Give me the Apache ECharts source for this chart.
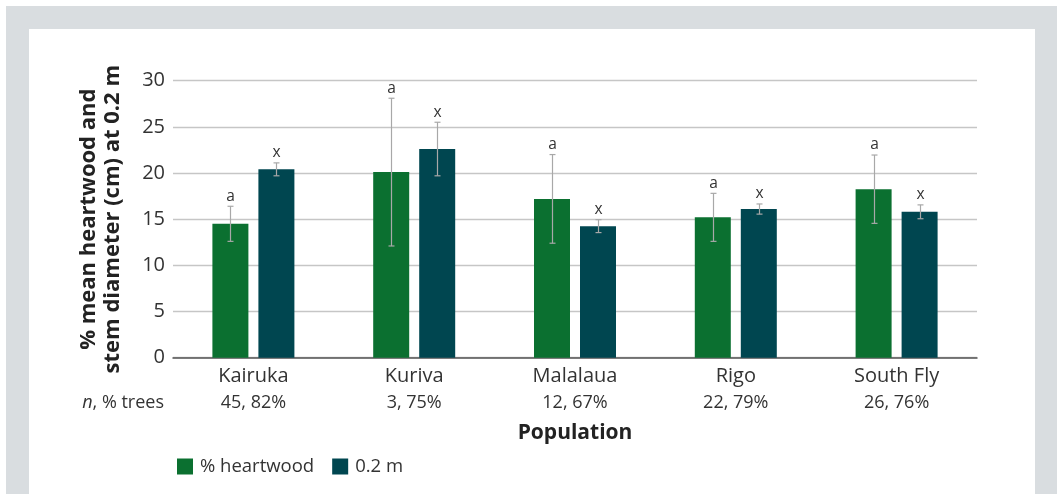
<!DOCTYPE html>
<html>
<head>
<meta charset="utf-8">
<script src="https://cdn.jsdelivr.net/npm/echarts@6/dist/echarts.min.js"></script>
<style>
  html, body { margin: 0; padding: 0; background: #fff; }
  #frame { position: absolute; left: 6px; top: 6px; width: 1051px; height: 488px; background: #d9dde0; }
  #panel { position: absolute; left: 29px; top: 29px; width: 1006px; height: 465px; background: #fff; }
  #chart { position: absolute; left: 0; top: 0; width: 1057px; height: 494px; }
</style>
</head>
<body>
<div id="frame"></div>
<div id="panel"></div>
<div id="chart"></div>
<script>
// populations and sample info
const populations = ['Kairuka', 'Kuriva', 'Malalaua', 'Rigo', 'South Fly'];
const sampleInfo = ['45, 82%', '3, 75%', '12, 67%', '22, 79%', '26, 76%'];

// means and error (+/-)
const heartwood = [14.5, 20.1, 17.2, 15.2, 18.25];
const heartwoodErr = [1.9, 8.0, 4.8, 2.6, 3.7];
const heartwoodLetter = ['a', 'a', 'a', 'a', 'a'];

const diameter = [20.4, 22.6, 14.25, 16.1, 15.8];
const diameterErr = [0.7, 2.9, 0.7, 0.55, 0.75];
const diameterLetter = ['x', 'x', 'x', 'x', 'x'];

const BAR_W = 36;
const BAR_GAP = 10;
const FONT = '"Open Sans", "Noto Sans", sans-serif';

const chart = echarts.init(document.getElementById('chart'));

// error bar + significance letter, drawn on top of each bar
function errorSeries(means, errs, letters, side) {
  return {
    type: 'custom',
    z: 5,
    silent: true,
    data: means.map((m, i) => [i, m, errs[i]]),
    renderItem(params, api) {
      const i = api.value(0);
      const m = api.value(1);
      const e = api.value(2);
      const off = side * (BAR_W + BAR_GAP) / 2;
      const top = api.coord([i, m + e]);
      const bot = api.coord([i, m - e]);
      const x = Math.round(top[0] + off) + 0.5;
      const cap = 3;
      const style = { stroke: '#a8a8a8', lineWidth: 1.2 };
      return {
        type: 'group',
        children: [
          { type: 'line', shape: { x1: x, y1: top[1], x2: x, y2: bot[1] }, style },
          { type: 'line', shape: { x1: x - cap, y1: top[1], x2: x + cap, y2: top[1] }, style },
          { type: 'line', shape: { x1: x - cap, y1: bot[1], x2: x + cap, y2: bot[1] }, style },
          {
            type: 'text',
            style: {
              text: letters[i], x: x, y: top[1] - 2,
              align: 'center', verticalAlign: 'bottom',
              fontSize: 15.5, fontFamily: FONT, fill: '#333'
            }
          }
        ]
      };
    }
  };
}

const option = {
  animation: false,
  textStyle: { fontFamily: FONT },
  grid: { left: 173, right: 80, top: 80.7, bottom: 136.3 },
  legend: {
    left: 177,
    top: 457,
    padding: 0,
    itemWidth: 16,
    itemHeight: 16,
    itemGap: 18,
    icon: 'rect',
    textStyle: { fontSize: 18.5, color: '#333', fontFamily: FONT, padding: [0, 0, 0, 2] },
    data: ['% heartwood', '0.2 m']
  },
  xAxis: {
    type: 'category',
    data: populations,
    axisLine: { lineStyle: { color: '#555', width: 1.5 } },
    axisTick: { show: false },
    axisLabel: {
      margin: 5,
      formatter: (v, i) => '{a|' + v + '}\n{b|' + sampleInfo[i] + '}',
      rich: {
        a: { fontSize: 20, lineHeight: 27, color: '#333', fontFamily: FONT },
        b: { fontSize: 18, lineHeight: 27, color: '#333', fontFamily: FONT }
      }
    },
    name: 'Population',
    nameLocation: 'middle',
    nameGap: 65,
    nameTextStyle: { fontSize: 21, fontWeight: 'bold', color: '#222', fontFamily: FONT }
  },
  yAxis: {
    type: 'value',
    min: 0,
    max: 30,
    interval: 5,
    axisLine: { show: false },
    axisTick: { show: false },
    axisLabel: { fontSize: 20, color: '#333', margin: 8, fontFamily: FONT },
    splitLine: { lineStyle: { color: '#c6c6c6', width: 1.4 } },
    name: '% mean heartwood and\nstem diameter (cm) at 0.2 m',
    nameLocation: 'middle',
    nameGap: 48,
    nameTextStyle: { fontSize: 22, fontWeight: 'bold', color: '#222', lineHeight: 24, fontFamily: FONT }
  },
  graphic: [{
    type: 'text',
    z: 10,
    style: {
      x: 164,
      y: 403,
      align: 'right',
      verticalAlign: 'middle',
      text: '{i|n}{r|, % trees}',
      rich: {
        i: { fontSize: 18, fontStyle: 'italic', fill: '#333', fontFamily: FONT },
        r: { fontSize: 18, fill: '#333', fontFamily: FONT }
      }
    }
  }],
  series: [
    {
      name: '% heartwood',
      type: 'bar',
      data: heartwood,
      barWidth: BAR_W,
      barGap: (BAR_GAP / BAR_W * 100) + '%',
      itemStyle: { color: '#0b7030' }
    },
    {
      name: '0.2 m',
      type: 'bar',
      data: diameter,
      barWidth: BAR_W,
      itemStyle: { color: '#004650' }
    },
    errorSeries(heartwood, heartwoodErr, heartwoodLetter, -1),
    errorSeries(diameter, diameterErr, diameterLetter, 1)
  ]
};

chart.setOption(option);
</script>
</body>
</html>
